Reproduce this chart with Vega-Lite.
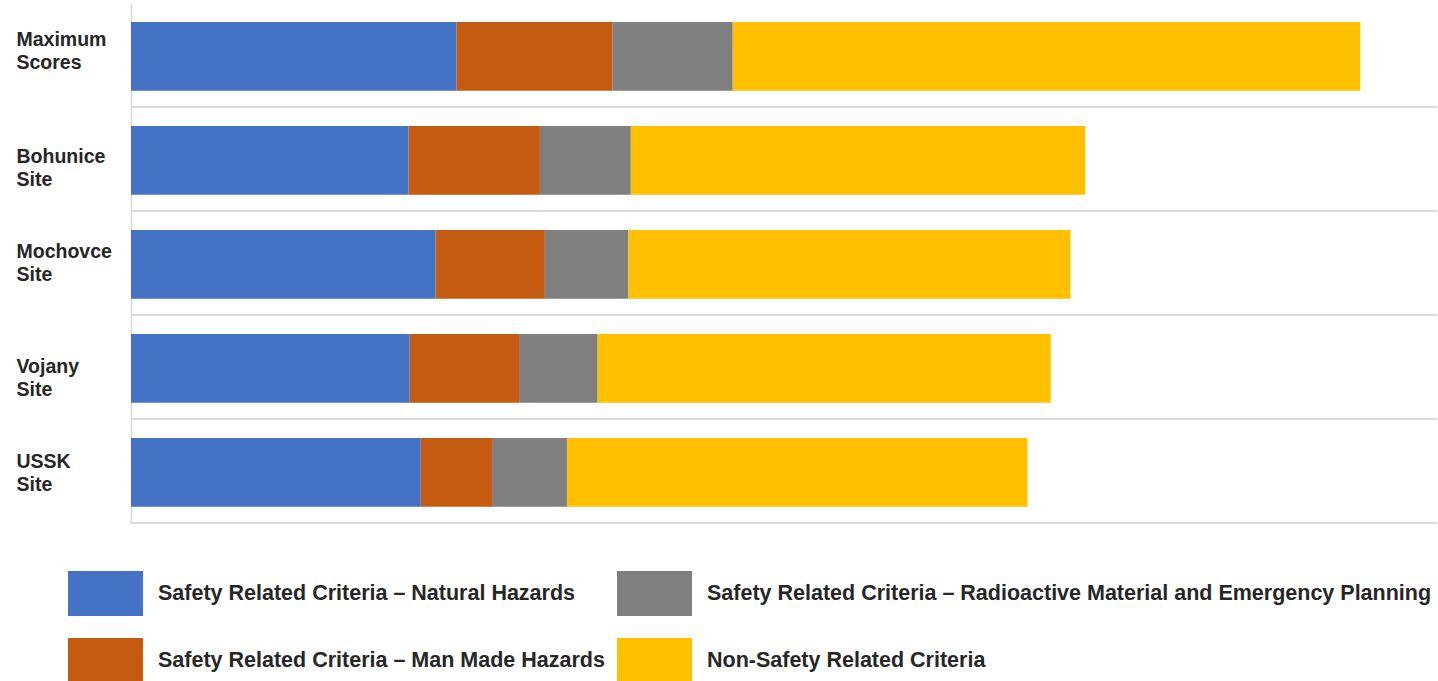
{
  "$schema": "https://vega.github.io/schema/vega-lite/v6.json",
  "width": 1306,
  "height": 520,
  "autosize": {"type": "none"},
  "padding": {"left": 131, "top": 3, "right": 1, "bottom": 158},
  "background": "white",
  "config": {"view": {"stroke": null}},
  "data": {
    "values": [
      {"site": "Maximum Scores", "criterion": "Safety Related Criteria – Natural Hazards", "k": 1, "score": 26.5},
      {"site": "Maximum Scores", "criterion": "Safety Related Criteria – Man Made Hazards", "k": 2, "score": 12.7},
      {"site": "Maximum Scores", "criterion": "Safety Related Criteria – Radioactive Material and Emergency Planning", "k": 3, "score": 9.8},
      {"site": "Maximum Scores", "criterion": "Non-Safety Related Criteria", "k": 4, "score": 51.1},
      {"site": "Bohunice Site", "criterion": "Safety Related Criteria – Natural Hazards", "k": 1, "score": 22.6},
      {"site": "Bohunice Site", "criterion": "Safety Related Criteria – Man Made Hazards", "k": 2, "score": 10.7},
      {"site": "Bohunice Site", "criterion": "Safety Related Criteria – Radioactive Material and Emergency Planning", "k": 3, "score": 7.4},
      {"site": "Bohunice Site", "criterion": "Non-Safety Related Criteria", "k": 4, "score": 37.0},
      {"site": "Mochovce Site", "criterion": "Safety Related Criteria – Natural Hazards", "k": 1, "score": 24.8},
      {"site": "Mochovce Site", "criterion": "Safety Related Criteria – Man Made Hazards", "k": 2, "score": 8.9},
      {"site": "Mochovce Site", "criterion": "Safety Related Criteria – Radioactive Material and Emergency Planning", "k": 3, "score": 6.8},
      {"site": "Mochovce Site", "criterion": "Non-Safety Related Criteria", "k": 4, "score": 36.0},
      {"site": "Vojany Site", "criterion": "Safety Related Criteria – Natural Hazards", "k": 1, "score": 22.7},
      {"site": "Vojany Site", "criterion": "Safety Related Criteria – Man Made Hazards", "k": 2, "score": 8.9},
      {"site": "Vojany Site", "criterion": "Safety Related Criteria – Radioactive Material and Emergency Planning", "k": 3, "score": 6.4},
      {"site": "Vojany Site", "criterion": "Non-Safety Related Criteria", "k": 4, "score": 36.9},
      {"site": "USSK Site", "criterion": "Safety Related Criteria – Natural Hazards", "k": 1, "score": 23.6},
      {"site": "USSK Site", "criterion": "Safety Related Criteria – Man Made Hazards", "k": 2, "score": 5.8},
      {"site": "USSK Site", "criterion": "Safety Related Criteria – Radioactive Material and Emergency Planning", "k": 3, "score": 6.1},
      {"site": "USSK Site", "criterion": "Non-Safety Related Criteria", "k": 4, "score": 37.5}
    ]
  },
  "layer": [
    {
      "mark": {"type": "rule", "color": "#d9d9d9", "strokeWidth": 1.5},
      "encoding": {
        "y": {
          "field": "site",
          "type": "nominal",
          "sort": null,
          "title": null,
          "bandPosition": 1.2383,
          "scale": {"paddingInner": 0.34, "paddingOuter": 0.17, "align": 0.537},
          "axis": {
            "domainColor": "#d9d9d9",
            "domainWidth": 1.5,
            "ticks": false,
            "tickSize": 0,
            "grid": false,
            "labelAlign": "left",
            "labelBaseline": "middle",
            "labelPadding": 115,
            "labelFont": "Liberation Sans",
            "labelFontWeight": "bold",
            "labelFontSize": 19.5,
            "labelLineHeight": 23,
            "labelColor": "#262626",
            "labelLimit": 0,
            "labelOffset": {
              "condition": [
                {"test": "datum.value === 'Maximum Scores'", "value": -16},
                {"test": "datum.value === 'Bohunice Site'", "value": -3},
                {"test": "datum.value === 'Mochovce Site'", "value": -12.5},
                {"test": "datum.value === 'Vojany Site'", "value": -1.5}
              ],
              "value": -10.5
            },
            "labelExpr": "split(datum.label, ' ')"
          }
        }
      }
    },
    {
      "mark": {"type": "bar"},
      "encoding": {
        "y": {
          "field": "site",
          "type": "nominal",
          "sort": null,
          "title": null,
          "axis": {
            "domainColor": "#d9d9d9",
            "domainWidth": 1.5,
            "ticks": false,
            "tickSize": 0,
            "grid": false,
            "labelAlign": "left",
            "labelBaseline": "middle",
            "labelPadding": 115,
            "labelFont": "Liberation Sans",
            "labelFontWeight": "bold",
            "labelFontSize": 19.5,
            "labelLineHeight": 23,
            "labelColor": "#262626",
            "labelLimit": 0,
            "labelOffset": {
              "condition": [
                {"test": "datum.value === 'Maximum Scores'", "value": -16},
                {"test": "datum.value === 'Bohunice Site'", "value": -3},
                {"test": "datum.value === 'Mochovce Site'", "value": -12.5},
                {"test": "datum.value === 'Vojany Site'", "value": -1.5}
              ],
              "value": -10.5
            },
            "labelExpr": "split(datum.label, ' ')"
          }
        },
        "x": {
          "field": "score",
          "type": "quantitative",
          "stack": "zero",
          "scale": {"domain": [0, 106.35], "nice": false, "zero": true},
          "axis": null
        },
        "order": {"field": "k", "type": "quantitative"},
        "color": {
          "field": "criterion",
          "type": "nominal",
          "scale": {
            "domain": [
              "Safety Related Criteria – Natural Hazards",
              "Safety Related Criteria – Man Made Hazards",
              "Safety Related Criteria – Radioactive Material and Emergency Planning",
              "Non-Safety Related Criteria"
            ],
            "range": ["#4472C4", "#C55A11", "#7F7F7F", "#FFC000"]
          },
          "legend": {
            "orient": "none",
            "legendX": -48,
            "legendY": 568,
            "columns": 2,
            "title": null,
            "symbolType": "M-1.667,-1H1.667V1H-1.667Z",
            "symbolSize": 2025,
            "symbolStrokeWidth": 0,
            "symbolOpacity": 1,
            "labelFont": "Liberation Sans",
            "labelFontSize": 21.5,
            "labelFontWeight": "bold",
            "labelColor": "#262626",
            "labelLimit": 0,
            "labelOffset": 30,
            "columnPadding": 11,
            "rowPadding": 22,
            "padding": 0
          }
        }
      }
    }
  ]
}
